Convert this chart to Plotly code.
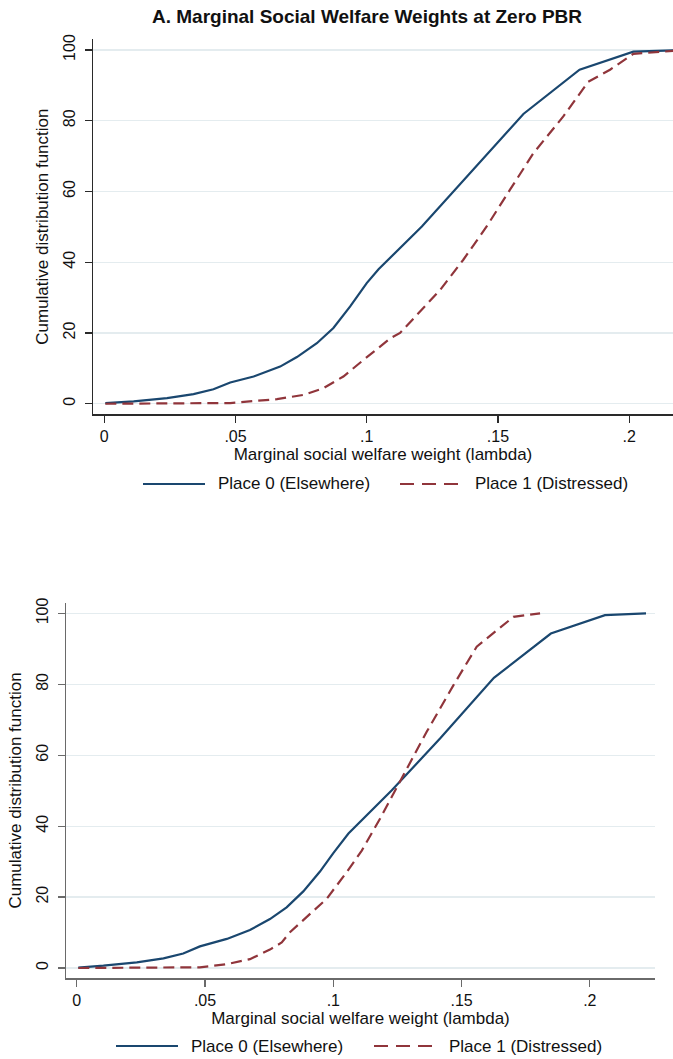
import plotly.graph_objects as go

# ---- Data ----
x_ticks = [0, 0.05, 0.1, 0.15, 0.2]
x_tick_labels = ["0", ".05", ".1", ".15", ".2"]
y_ticks = [0, 20, 40, 60, 80, 100]
y_tick_labels = ["0", "20", "40", "60", "80", "100"]

series_names = ["Place 0 (Elsewhere)", "Place 1 (Distressed)"]

# Panel A (top)
a_place0_x = [0.0004, 0.0112, 0.0239, 0.034, 0.0416, 0.048, 0.0569, 0.067, 0.0734, 0.081,
              0.0873, 0.0937, 0.1, 0.1045, 0.121, 0.1394, 0.1597, 0.1811, 0.2016, 0.222]
a_place0_y = [0.2, 0.65, 1.6, 2.7, 4.1, 6.0, 7.7, 10.5, 13.2, 17.1,
              21.4, 27.5, 34.1, 38.0, 50.1, 65.2, 81.9, 94.4, 99.5, 100]
a_place1_x = [0.0004, 0.025, 0.048, 0.0658, 0.0759, 0.0835, 0.0911, 0.0988, 0.109, 0.1127,
              0.128, 0.1368, 0.1457, 0.1546, 0.1635, 0.1749, 0.1844, 0.1927, 0.2016, 0.222]
a_place1_y = [0, 0, 0.2, 1.3, 2.5, 4.4, 7.7, 12.4, 18.5, 20,
              32.2, 40.7, 50.1, 60.5, 70.8, 81.2, 91.0, 94.4, 98.9, 100]

# Panel B (bottom)
b_place0_x = [0.0006, 0.0104, 0.0234, 0.0338, 0.0415, 0.048, 0.0585, 0.0675, 0.0753, 0.0818,
              0.0883, 0.0948, 0.1, 0.1059, 0.1228, 0.1416, 0.1626, 0.1848, 0.2059, 0.2219]
b_place0_y = [0.1, 0.65, 1.6, 2.7, 4.1, 6.1, 8.2, 10.7, 13.8, 17.1,
              21.6, 27.2, 32.4, 37.9, 50.1, 64.7, 81.8, 94.3, 99.5, 100]
b_place1_x = [0.0006, 0.025, 0.048, 0.0585, 0.0675, 0.0753, 0.0799, 0.0831, 0.0896, 0.0974,
              0.1052, 0.1111, 0.1182, 0.1286, 0.1364, 0.1468, 0.1559, 0.1702, 0.1806]
b_place1_y = [0, 0, 0.2, 1.1, 2.5, 5.2, 7.2, 10.1, 14.3, 19.5,
              27.0, 33.1, 42.1, 56.2, 66.6, 79.7, 90.6, 99.0, 100]

title_a = "A. Marginal Social Welfare Weights at Zero PBR"
x_title = "Marginal social welfare weight (lambda)"
y_title = "Cumulative distribution function"

# ---- Styling ----
BLUE = "#1a476f"
RED = "#90353b"
GRID = "#e4ecef"
FONT = "Liberation Sans, Arial, Helvetica, sans-serif"
TXT = "#111111"
W, H = 673, 1059
RED_DASH = "11px,6px"
TICK_SIZE = 16
LABEL_SIZE = 17

fig = go.Figure()

def add_pair(x0, y0, x1, y1, xa, ya):
    fig.add_trace(go.Scatter(x=x0, y=y0, mode="lines", name=series_names[0],
                             line=dict(color=BLUE, width=2.2), xaxis=xa, yaxis=ya,
                             showlegend=False))
    fig.add_trace(go.Scatter(x=x1, y=y1, mode="lines", name=series_names[1],
                             line=dict(color=RED, width=2.2, dash=RED_DASH),
                             xaxis=xa, yaxis=ya, showlegend=False))

add_pair(a_place0_x, a_place0_y, a_place1_x, a_place1_y, "x", "y")
add_pair(b_place0_x, b_place0_y, b_place1_x, b_place1_y, "x2", "y2")

def px_y(p):
    return 1 - p / H

def xaxis_style(dom, rng, linecolor, anchor):
    return dict(domain=dom, range=rng, tickvals=x_ticks, ticktext=x_tick_labels,
                anchor=anchor, automargin=False,
                showgrid=False, zeroline=False, showline=True, linecolor=linecolor,
                linewidth=1.5, ticks="outside", ticklen=7, tickwidth=1.2,
                tickcolor=linecolor, tickfont=dict(family=FONT, size=TICK_SIZE, color=TXT),
                title=dict(text=x_title, font=dict(family=FONT, size=LABEL_SIZE, color=TXT),
                           standoff=4))

def yaxis_style(dom, linecolor, anchor):
    return dict(domain=dom, range=[-2.9, 103], tickvals=y_ticks, ticktext=y_tick_labels,
                anchor=anchor, automargin=False,
                showgrid=True, gridcolor=GRID, gridwidth=1.2, zeroline=False,
                showline=True, linecolor=linecolor, linewidth=1.5, ticks="outside",
                ticklen=7, tickwidth=1.2, tickcolor=linecolor, tickangle=-90,
                ticklabelstandoff=3,
                tickfont=dict(family=FONT, size=TICK_SIZE, color=TXT),
                title=dict(text=y_title, font=dict(family=FONT, size=LABEL_SIZE, color=TXT),
                           standoff=8))

# ---- Legend keys drawn as paper-space samples (Stata-style long keys) ----
shapes = []
annotations = []

def add_legend(y_px, blue_x, red_x, key_len=62, gap=11):
    yp = px_y(y_px)
    shapes.append(dict(type="line", xref="paper", yref="paper",
                       x0=blue_x / W, x1=(blue_x + key_len) / W, y0=yp, y1=yp,
                       line=dict(color=BLUE, width=2.2)))
    shapes.append(dict(type="line", xref="paper", yref="paper",
                       x0=red_x / W, x1=(red_x + key_len) / W, y0=yp, y1=yp,
                       line=dict(color=RED, width=2.2, dash="14px,8px")))
    for name, xs in zip(series_names, [blue_x, red_x]):
        annotations.append(dict(text=name, xref="paper", yref="paper",
                                x=(xs + key_len + gap) / W, y=yp, xanchor="left",
                                yanchor="middle", showarrow=False,
                                font=dict(family=FONT, size=LABEL_SIZE, color=TXT)))

add_legend(484, 143, 400)
add_legend(1046, 116, 374)

annotations.append(dict(text="<b>" + title_a + "</b>", xref="paper", yref="paper",
                        x=367 / W, y=px_y(16), xanchor="center", yanchor="middle",
                        showarrow=False,
                        font=dict(family=FONT, size=19, color=TXT)))

fig.update_layout(
    width=W, height=H,
    margin=dict(l=0, r=0, t=0, b=0),
    paper_bgcolor="white", plot_bgcolor="white",
    font=dict(family=FONT, size=15, color=TXT),
    xaxis=xaxis_style([93 / W, 1.0], [-0.0043, 0.2167], "#2a2a2a", "y"),
    yaxis=yaxis_style([px_y(414), px_y(39.3)], "#2a2a2a", "x"),
    xaxis2=xaxis_style([66 / W, 655 / W], [-0.0042, 0.2254], "#6a6a6a", "y2"),
    yaxis2=yaxis_style([px_y(978.3), px_y(602.7)], "#6a6a6a", "x2"),
    showlegend=False,
    hovermode=False,
    shapes=shapes,
    annotations=annotations,
)

fig.write_html("out.html",
               config={"displayModeBar": False, "staticPlot": True},
               post_script="document.body.style.margin='0';"
                           "document.body.style.overflow='hidden';")
